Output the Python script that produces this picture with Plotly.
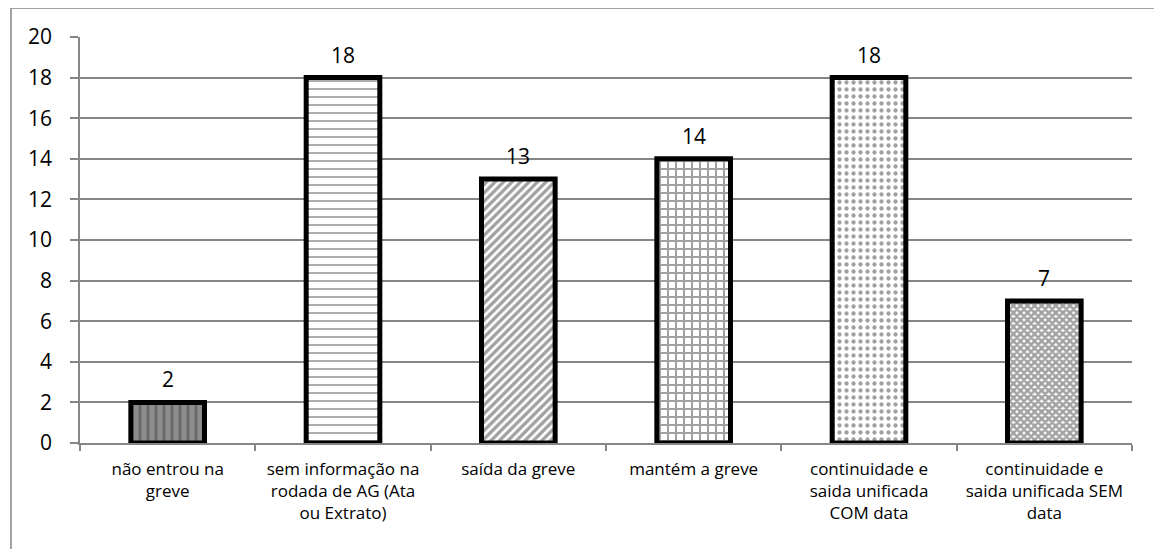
import plotly.graph_objects as go

categories = [
    "não entrou na greve",
    "sem informação na rodada de AG (Ata ou Extrato)",
    "saída da greve",
    "mantém a greve",
    "continuidade e saida unificada COM data",
    "continuidade e saida unificada SEM data",
]
tick_labels = [
    "não entrou na<br>greve",
    "sem informação na<br>rodada de AG (Ata<br>ou Extrato)",
    "saída da greve",
    "mantém a greve",
    "continuidade e<br>saida unificada<br>COM data",
    "continuidade e<br>saida unificada SEM<br>data",
]
values = [2, 18, 13, 14, 18, 7]
y_ticks = [0, 2, 4, 6, 8, 10, 12, 14, 16, 18, 20]

shapes_p = ["|", "-", "/", "+", ".", "x"]
bgcolors = ["#8c8c8c", "white", "white", "white", "white", "white"]
sizes = [8, 8, 6, 8, 7, 5]
solid = [0.35, 0.22, 0.55, 0.45, 0.3, 0.75]

FONT = "Open Sans"
W, H = 1154, 541
ML, MR, MT, MB = 72, 30, 29, 106
PW = W - ML - MR
PH = H - MT - MB

fig = go.Figure()
fig.add_trace(go.Bar(
    x=categories,
    y=values,
    width=0.42,
    marker=dict(
        color=bgcolors,
        line=dict(color="black", width=5),
        pattern=dict(
            shape=shapes_p,
            fgcolor="black",
            bgcolor=bgcolors,
            size=sizes,
            solidity=solid,
            fillmode="overlay",
        ),
    ),
))

annotations = [
    dict(x=c, y=v, text=str(v), xref="x", yref="y", showarrow=False,
         yanchor="bottom", yshift=7,
         font=dict(family=FONT, size=21, color="black"))
    for c, v in zip(categories, values)
]

fig.update_layout(
    width=W,
    height=H,
    margin=dict(l=ML, r=MR, t=MT, b=MB, autoexpand=False),
    paper_bgcolor="white",
    plot_bgcolor="white",
    showlegend=False,
    font=dict(family=FONT, color="black"),
    annotations=annotations,
    shapes=[dict(
        type="rect", xref="paper", yref="paper",
        x0=(3 - ML) / PW, x1=(1152 - ML) / PW,
        y0=-0.5, y1=1 + MT / PH,
        line=dict(color="#868686", width=1.5),
        fillcolor="rgba(0,0,0,0)",
        layer="below",
    )],
)
fig.update_yaxes(
    range=[0, 20],
    tickvals=y_ticks,
    showgrid=True,
    gridcolor="#868686",
    gridwidth=1.5,
    showline=True,
    linecolor="#868686",
    linewidth=1.5,
    ticks="outside",
    ticklen=8,
    tickcolor="#868686",
    tickwidth=1.5,
    ticklabelstandoff=14,
    tickfont=dict(family=FONT, size=21, color="black"),
    zeroline=False,
)
fig.update_xaxes(
    tickvals=categories,
    ticktext=tick_labels,
    tickangle=0,
    tickson="boundaries",
    ticks="outside",
    ticklen=6,
    tickcolor="#868686",
    tickwidth=1.5,
    showline=True,
    linecolor="#868686",
    linewidth=1.5,
    ticklabelstandoff=10,
    tickfont=dict(family=FONT, size=17, color="black"),
)

fig.write_html("out.html")
